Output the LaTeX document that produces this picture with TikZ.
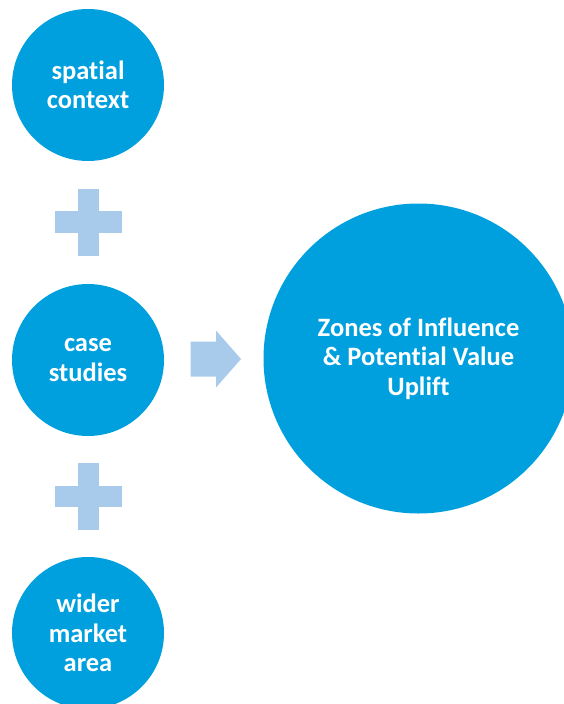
\documentclass[tikz,border=0pt]{standalone}
\usepackage{fontspec}
\setmainfont{Carlito}[Ligatures=CommonOff]
\usepackage{xcolor}
\usetikzlibrary{positioning}
\definecolor{discblue}{RGB}{0,160,222}
\definecolor{signblue}{RGB}{168,203,236}
\tikzset{
  disc/.style={circle, fill=discblue, inner sep=0pt, minimum size=152pt,
    text=white, align=center, font=\fontsize{26.5}{29.5}\selectfont\bfseries},
  bigdisc/.style={disc, minimum size=310pt},
  sign/.style={fill=signblue}
}
\begin{document}
\begin{tikzpicture}[x=1pt,y=-1pt]
\useasboundingbox (0,0) rectangle (564,704);
\node[disc] (spatial) at (88,85) {spatial\\context};
\node[disc] (cases) at (88,360) {case\\studies};
\node[disc] (market) at (88,633) {wider\\market\\area};
\node[bigdisc] (zones) at (418.5,358.5) {Zones of Influence\\\& Potential Value\\Uplift};
% Plus signs
\fill[sign] (55,211) rectangle (122,233);
\fill[sign] (78,189) rectangle (99,256);
\fill[sign] (55,486) rectangle (122,507);
\fill[sign] (78,463) rectangle (99,530);
% Arrow
\fill[sign] (190.5,341.5) -- (216,341.5) -- (216,330.5) -- (241,359)
  -- (216,387.5) -- (216,376.5) -- (190.5,376.5) -- cycle;
\end{tikzpicture}
\end{document}
